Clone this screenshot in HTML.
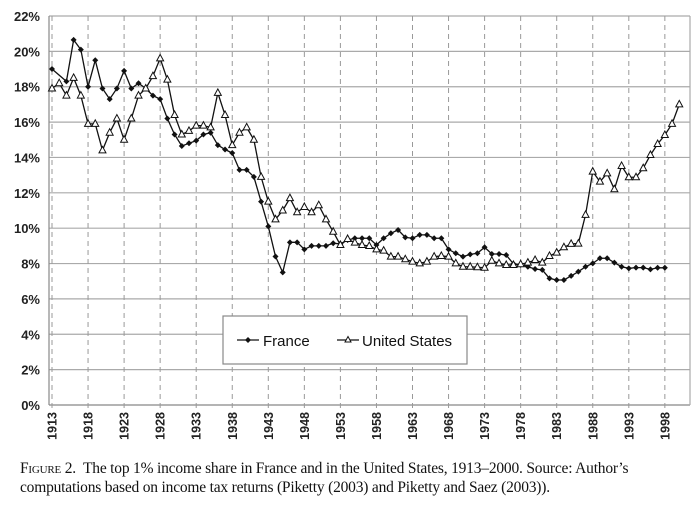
<!DOCTYPE html>
<html><head><meta charset="utf-8"><style>
body{margin:0;background:#fff;width:700px;height:520px;overflow:hidden}
svg text{font-family:"Liberation Sans",Arial,sans-serif}
.cap{position:absolute;left:20px;top:459px;font-family:"Liberation Serif",serif;font-size:15.5px;line-height:19px;color:#111;letter-spacing:-0.2px}
</style></head><body>
<svg id="chart" width="700" height="450" style="position:absolute;left:0;top:0"></svg>
<div class="cap"><span style="font-variant:small-caps">Figure</span> 2.&nbsp; The top 1% income share in France and in the United States, 1913–2000. Source: Author’s<br>computations based on income tax returns (Piketty (2003) and Piketty and Saez (2003)).</div>
<script>
const yTicks=[0,2,4,6,8,10,12,14,16,18,20,22];
const xTickYears=[1913,1918,1923,1928,1933,1938,1943,1948,1953,1958,1963,1968,1973,1978,1983,1988,1993,1998];
const franceYears=[1913,1915,1916,1917,1918,1919,1920,1921,1922,1923,1924,1925,1926,1927,1928,1929,1930,1931,1932,1933,1934,1935,1936,1937,1938,1939,1940,1941,1942,1943,1944,1945,1946,1947,1948,1949,1950,1951,1952,1953,1954,1955,1956,1957,1958,1959,1960,1961,1962,1963,1964,1965,1966,1967,1968,1969,1970,1971,1972,1973,1974,1975,1976,1977,1978,1979,1980,1981,1982,1983,1984,1985,1986,1987,1988,1989,1990,1991,1992,1993,1994,1995,1996,1997,1998];
const franceValues=[19.0,18.3,20.65,20.1,18.0,19.5,17.9,17.3,17.9,18.9,17.9,18.2,17.9,17.5,17.3,16.2,15.3,14.65,14.8,14.95,15.3,15.4,14.7,14.45,14.25,13.3,13.3,12.9,11.5,10.1,8.4,7.5,9.2,9.2,8.8,9.0,9.0,9.0,9.15,9.11,9.33,9.43,9.43,9.43,9.05,9.43,9.71,9.9,9.48,9.43,9.62,9.62,9.43,9.43,8.8,8.58,8.39,8.52,8.58,8.92,8.54,8.54,8.48,7.98,7.92,7.82,7.69,7.64,7.16,7.07,7.07,7.3,7.54,7.82,8.01,8.3,8.3,8.05,7.82,7.73,7.77,7.77,7.67,7.76,7.76];
const usStartYear=1913;
const usValues=[17.9,18.2,17.5,18.5,17.5,15.9,15.9,14.4,15.4,16.2,15.0,16.2,17.5,17.9,18.6,19.6,18.4,16.4,15.3,15.5,15.8,15.8,15.7,17.65,16.4,14.7,15.4,15.7,15.0,12.9,11.5,10.5,11.0,11.7,10.9,11.2,10.9,11.3,10.5,9.8,9.05,9.39,9.18,9.05,8.99,8.8,8.73,8.39,8.39,8.24,8.11,8.01,8.11,8.39,8.43,8.39,8.01,7.82,7.82,7.79,7.76,8.16,8.01,7.92,7.92,7.96,8.05,8.2,8.05,8.43,8.62,8.92,9.11,9.13,10.75,13.2,12.63,13.1,12.2,13.52,12.88,12.88,13.39,14.14,14.76,15.27,15.9,17.0];
const NS="http://www.w3.org/2000/svg";
const svg=document.getElementById('chart');
const X0=49,X1=690,Y0=405,Y1=16;
const xS=yr=>52+(yr-1913)*7.21;
const yS=v=>Y0-(v/22)*(Y0-Y1);
function mk(t,a,p){const e=document.createElementNS(NS,t);for(const k in a)e.setAttribute(k,a[k]);(p||svg).appendChild(e);return e;}
// horizontal grid + y labels
yTicks.forEach(v=>{
  const l=mk('line',{x1:X0,x2:X1,y1:yS(v),y2:yS(v),stroke:v===0?'#888':'#aaa','stroke-width':1.2});
  
  
  const t=mk('text',{x:40,y:yS(v)+5,'text-anchor':'end','font-size':13,'font-weight':'bold',fill:'#222'});
  t.textContent=v+'%';
  
  
});
// vertical grid + x labels
xTickYears.forEach(yr=>{
  const x=xS(yr);
  const l=mk('line',{x1:x,x2:x,y1:Y1,y2:Y0+4,stroke:'#999','stroke-width':1,'stroke-dasharray':'5,4'});
  
  
  const t=mk('text',{x:0,y:0,'text-anchor':'end','font-size':12.5,'font-weight':'bold',fill:'#222',transform:`translate(${x+4.5},412) rotate(-90)`});
  t.textContent=yr;
  
  
});
const ax=mk('line',{x1:X0,x2:X0,y1:Y1,y2:Y0,stroke:'#888','stroke-width':1.2});


const rb=mk('line',{x1:X1,x2:X1,y1:Y1,y2:Y0,stroke:'#aaa','stroke-width':1.2});


// France
const fpts=franceYears.map((yr,i)=>[xS(yr),yS(franceValues[i])]);
const fl=mk('polyline',{points:fpts.map(p=>p.join(',')).join(' '),fill:'none',stroke:'#111','stroke-width':1.3});


fpts.forEach(p=>{
  const c=mk('path',{d:`M${p[0]},${p[1]-3}L${p[0]+3},${p[1]}L${p[0]},${p[1]+3}L${p[0]-3},${p[1]}Z`,fill:'#111'});
  
  
});
// US
const upts=usValues.map((v,i)=>[xS(usStartYear+i),yS(v)]);
const ul=mk('polyline',{points:upts.map(p=>p.join(',')).join(' '),fill:'none',stroke:'#111','stroke-width':1.3});


upts.forEach(p=>{
  const c=mk('path',{d:`M${p[0]},${p[1]-4}L${p[0]+3.5},${p[1]+2.5}L${p[0]-3.5},${p[1]+2.5}Z`,fill:'#fff',stroke:'#111','stroke-width':1});
  
  
});
// legend
const lg=mk('g',{});


mk('rect',{x:223,y:316,width:244,height:48,fill:'#fff',stroke:'#888','stroke-width':1.2},lg);
mk('line',{x1:237,x2:259,y1:340,y2:340,stroke:'#111','stroke-width':1.3},lg);
mk('path',{d:'M248,337L251,340L248,343L245,340Z',fill:'#111'},lg);
const t1=mk('text',{x:263,y:346,'font-size':15,fill:'#111'},lg);t1.textContent='France';


mk('line',{x1:337,x2:359,y1:340,y2:340,stroke:'#111','stroke-width':1.3},lg);
mk('path',{d:'M348,336.5L351,342L345,342Z',fill:'#fff',stroke:'#111','stroke-width':1},lg);
const t2=mk('text',{x:362,y:346,'font-size':15,fill:'#111'},lg);t2.textContent='United States';


</script>
</body></html>
